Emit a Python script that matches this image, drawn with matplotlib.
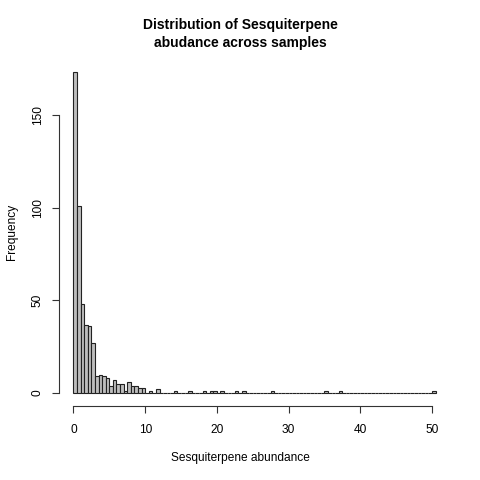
import numpy as np
import matplotlib
matplotlib.use("Agg")
import matplotlib.pyplot as plt

plt.rcParams['font.family'] = ['Liberation Sans', 'DejaVu Sans']

# histogram counts, bins of width 0.5 from 0 to 50.5
bin_width = 0.5
counts = [173, 101, 48, 37, 36, 27, 9, 10, 9, 8,
          4, 7, 5, 5, 1, 6, 4, 4, 3, 3,
          0, 1, 0, 2, 0, 0, 0, 0, 1, 0,
          0, 0, 1, 0, 0, 0, 1, 0, 1, 1,
          0, 1, 0, 0, 0, 1, 0, 1, 0, 0,
          0, 0, 0, 0, 0, 1, 0, 0, 0, 0,
          0, 0, 0, 0, 0, 0, 0, 0, 0, 0,
          1, 0, 0, 0, 1, 0, 0, 0, 0, 0,
          0, 0, 0, 0, 0, 0, 0, 0, 0, 0,
          0, 0, 0, 0, 0, 0, 0, 0, 0, 0,
          1]
x_ticks = [0, 10, 20, 30, 40, 50]
y_ticks = [0, 50, 100, 150]

title = "Distribution of Sesquiterpene\nabudance across samples"
xlabel = "Sesquiterpene abundance"
ylabel = "Frequency"

left_edges = np.arange(len(counts)) * bin_width

fig = plt.figure(figsize=(4.8, 4.8), dpi=100)
ax = fig.add_axes([59 / 480, 1 - 406 / 480, (450 - 59) / 480, (406 - 59.5) / 480])

ax.bar(left_edges, counts, width=bin_width, align='edge',
       color='#bebebe', edgecolor='#222222', linewidth=0.8)

xmax = len(counts) * bin_width
xpad = xmax * 0.04
ymax = max(counts)
ypad = ymax * 0.04
ax.set_xlim(-xpad, xmax + xpad)
ax.set_ylim(-ypad, ymax + ypad)

for s in ['top', 'right']:
    ax.spines[s].set_visible(False)
ax.spines['left'].set_bounds(y_ticks[0], y_ticks[-1])
ax.spines['bottom'].set_bounds(x_ticks[0], x_ticks[-1])
for s in ['left', 'bottom']:
    ax.spines[s].set_linewidth(0.8)
    ax.spines[s].set_color('#333333')

ax.set_xticks(x_ticks)
ax.set_yticks(y_ticks)
ax.set_yticklabels([str(v) for v in y_ticks], rotation=90, va='center')
ax.tick_params(axis='both', length=5, width=0.8, color='#333333',
               labelsize=8.6, pad=6)
ax.tick_params(axis='x', pad=8)

fig.text(0.5, 1 - 34 / 480, title, ha='center', va='center',
         fontsize=10, fontweight='bold', linespacing=1.4)
fig.text(0.5, 1 - 458 / 480, xlabel, ha='center', va='center', fontsize=8.6)
fig.text(12 / 480, 1 - 232 / 480, ylabel, ha='center', va='center',
         rotation=90, fontsize=8.6)

fig.savefig('out.png', dpi=100, facecolor='white')
